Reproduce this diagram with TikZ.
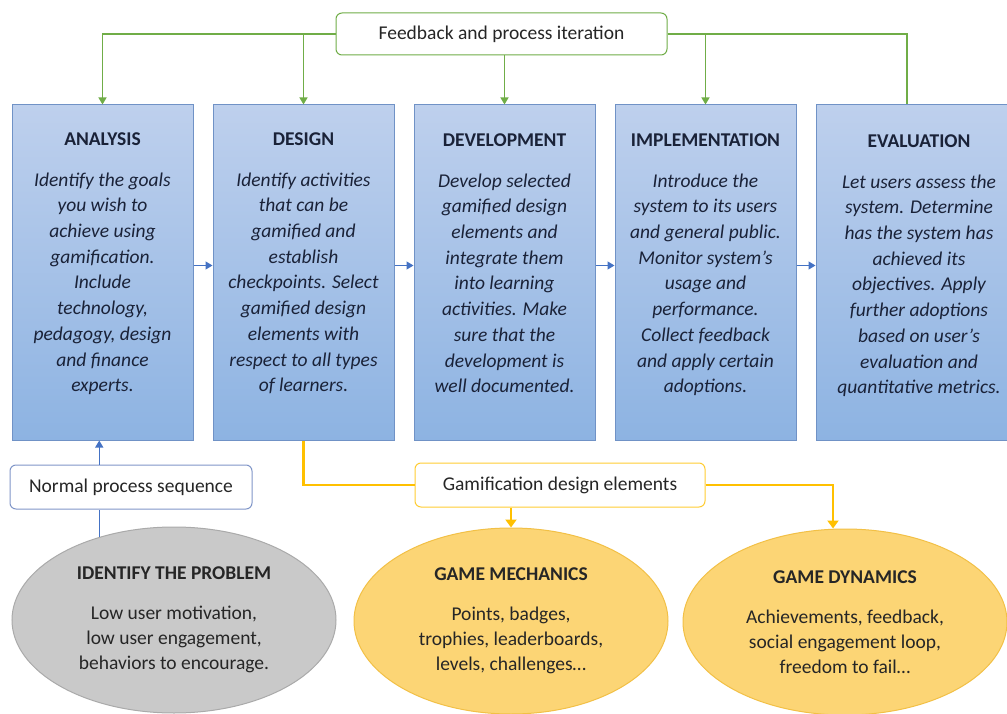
\documentclass[tikz,border=0pt]{standalone}
\usepackage{fontspec}
\setmainfont{Carlito}
\usepackage{tikz}
\usetikzlibrary{arrows.meta,positioning,shapes.geometric}
\definecolor{boxtop}{RGB}{190,208,237}
\definecolor{boxbot}{RGB}{141,179,226}
\definecolor{boxline}{RGB}{112,146,198}
\definecolor{fbgreen}{RGB}{112,173,71}
\definecolor{gdyellow}{RGB}{255,192,0}
\definecolor{ellyellow}{RGB}{252,213,117}
\definecolor{ellyline}{RGB}{242,192,70}
\definecolor{ellgray}{RGB}{201,201,201}
\definecolor{ellgline}{RGB}{170,170,170}
\definecolor{seqblue}{RGB}{68,114,196}
\definecolor{seqbox}{RGB}{128,150,200}
\definecolor{txtnavy}{RGB}{26,34,56}
\tikzset{
    %Define standard arrow tip
    >={Triangle[width=8pt,length=7pt]},
    %Define style for stage boxes
    stage/.style={
           rectangle,
           draw=boxline, line width=1pt,
           top color=boxtop, bottom color=boxbot,
           minimum width=181pt,
           minimum height=335pt,
           inner sep=0pt},
    stagetext/.style={
           anchor=north,
           align=center,
           inner sep=0pt,
           text=txtnavy,
           font=\fontsize{19.5}{25.7}\selectfont\itshape},
    %Define style for ellipses
    problem/.style={
           ellipse,
           draw=ellgline, line width=1pt,
           fill=ellgray,
           minimum width=324pt,
           minimum height=186pt,
           inner sep=0pt,
           align=center,
           text=black!85,
           font=\fontsize{19.5}{25}\selectfont},
    elements/.style={
           problem,
           draw=ellyline,
           fill=ellyellow},
    %Define style for label boxes
    labelbox/.style={
           rectangle,
           rounded corners=6pt,
           fill=white, line width=1pt,
           minimum height=42pt,
           text=black!85,
           font=\fontsize{19.5}{24}\selectfont},
    % Define arrow styles
    fbline/.style={
           draw=fbgreen,
           line width=1.3pt},
    seq/.style={
           draw=seqblue,
           line width=1.3pt},
    gdline/.style={
           draw=gdyellow,
           line width=2.5pt,
           >={Triangle[width=11pt,length=8pt]}}
}
\begin{document}
\begin{tikzpicture}[x=1pt,y=-1pt]
\useasboundingbox[fill=white] (0,0) rectangle (1007,714);
 %stages
\node[stage] (ana) at (102.5,272.5) {};
\node[stage, right=19pt of ana] (des) {};
\node[stage, right=19pt of des] (dev) {};
\node[stage, right=19pt of dev] (imp) {};
\node[stage, right=19pt of imp, minimum width=206pt] (eva) {};
\node[stagetext] (anat) at ([yshift=-28pt]ana.north) {{\bfseries\upshape ANALYSIS}\\[15pt]Identify the goals\\you wish to\\achieve using\\gamification.\\Include\\technology,\\pedagogy, design\\and finance\\experts.};
\node[stagetext] (dest) at ([yshift=-28pt]des.north) {{\bfseries\upshape DESIGN}\\[15pt]Identify activities\\that can be\\gamified and\\establish\\checkpoints. Select\\gamified design\\elements with\\respect to all types\\of learners.};
\node[stagetext] (devt) at ([yshift=-29pt]dev.north) {{\bfseries\upshape DEVELOPMENT}\\[15pt]Develop selected\\gamified design\\elements and\\integrate them\\into learning\\activities. Make\\sure that the\\development is\\well documented.};
\node[stagetext] (impt) at ([yshift=-29pt]imp.north) {{\bfseries\upshape IMPLEMENTATION}\\[15pt]Introduce the\\system to its users\\and general public.\\Monitor system’s\\usage and\\performance.\\Collect feedback\\and apply certain\\adoptions.};
\node[stagetext] (evat) at ([yshift=-30pt]eva.north) {{\bfseries\upshape EVALUATION}\\[15pt]Let users assess the\\system. Determine\\has the system has\\achieved its\\objectives. Apply\\further adoptions\\based on user’s\\evaluation and\\quantitative metrics.};
 %ellipses
\node[problem] (prob) at (174,620) {{\bfseries IDENTIFY THE PROBLEM}\\[15pt]Low user motivation,\\low user engagement,\\behaviors to encourage.};
\node[elements, minimum width=314pt] (mech) at (511,621) {{\bfseries GAME MECHANICS}\\[15pt]Points, badges,\\trophies, leaderboards,\\levels, challenges…};
\node[elements] (dyn) at (845,622) {{\bfseries GAME DYNAMICS}\\[15pt]Achievements, feedback,\\social engagement loop,\\freedom to fail…};
 %labels
\node[labelbox, draw=fbgreen, minimum width=331pt] (feed) at (501.5,34) {Feedback and process iteration};
\node[labelbox, draw=seqbox, minimum width=242pt, minimum height=44pt] (nps) at (131,487) {Normal process sequence};
\node[labelbox, draw=gdyellow!80!white, minimum width=290pt, minimum height=44pt] (gde) at (560,485) {Gamification design elements};
 %feedback loop
\draw[fbline,->] (feed.west) -| (ana.north);
\draw[fbline,->] (feed.west -| des.north) -- (des.north);
\draw[fbline,->] (feed.south -| dev.north) -- (dev.north);
\draw[fbline,->] (feed.east -| imp.north) -- (imp.north);
\draw[fbline] (feed.east) -| ([xshift=-12pt]eva.north);
 %normal sequence
\foreach \a/\b in {ana/des,des/dev,dev/imp,imp/eva}
    \draw[seq,->] ([yshift=7pt]\a.east) -- ([yshift=7pt]\b.west);
\draw[seq] (prob.132) -- (prob.132 |- nps.south);
\draw[seq,->] (prob.132 |- nps.north) -- (prob.132 |- ana.south);
 %design elements
\draw[gdline] (des.south) |- (gde.west);
\draw[gdline,->] (gde.south -| mech.north) -- (mech.north);
\draw[gdline,->] (gde.east) -| ([xshift=-12pt]dyn.north);
\end{tikzpicture}
\end{document}
